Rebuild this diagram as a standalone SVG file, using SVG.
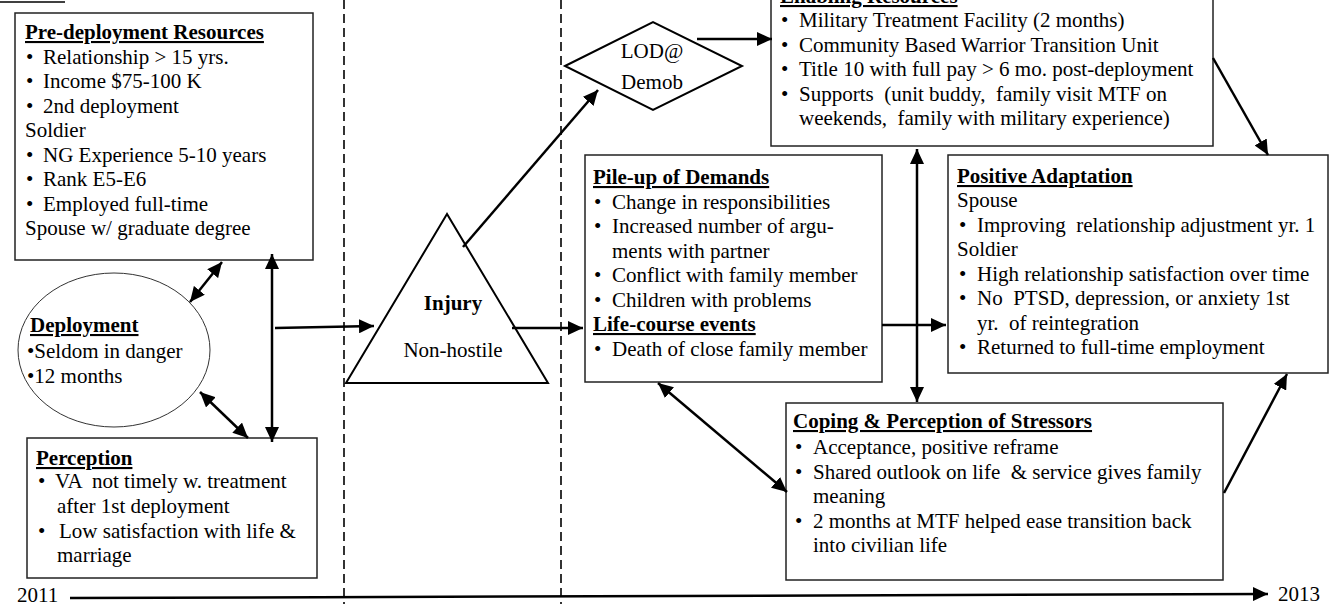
<svg xmlns="http://www.w3.org/2000/svg" width="1330" height="604" viewBox="0 0 1330 604">
<style>
text{font-size:21px;fill:#000;white-space:pre}
.h{font-weight:bold;text-decoration:underline}
.b{font-weight:bold}
.box{fill:#fff;stroke:#222;stroke-width:1.5}
.arr{stroke:#000;stroke-width:2.5;fill:none}
.dash{stroke:#000;stroke-width:1.6;stroke-dasharray:9,5;fill:none}
</style>
<defs>
<marker id="ah" markerUnits="userSpaceOnUse" markerWidth="16" markerHeight="14" refX="15" refY="7" orient="auto-start-reverse">
<path d="M0,0 L15,7 L0,14 z" fill="#000"/>
</marker>
</defs>
<rect width="1330" height="604" fill="#fff"/>
<line x1="0" y1="2" x2="65" y2="2" stroke="#000" stroke-width="1.5"/>
<line class="dash" x1="344" y1="0" x2="344" y2="604"/>
<line class="dash" x1="561" y1="0" x2="561" y2="604"/>
<g font-family="Liberation Serif, serif">
<g id="predeployment">
<rect class="box" x="15" y="13" width="298" height="247"/>
<text class="h" x="25" y="39">Pre-deployment Resources</text>
<text x="26" y="63.5">•</text><text x="43" y="63.5">Relationship &gt; 15 yrs.</text>
<text x="26" y="88">•</text><text x="43" y="88">Income $75-100 K</text>
<text x="26" y="112.5">•</text><text x="43" y="112.5">2nd deployment</text>
<text x="25" y="137">Soldier</text>
<text x="26" y="161.5">•</text><text x="43" y="161.5">NG Experience 5-10 years</text>
<text x="26" y="186">•</text><text x="43" y="186">Rank E5-E6</text>
<text x="26" y="210.5">•</text><text x="43" y="210.5">Employed full-time</text>
<text x="25" y="235">Spouse w/ graduate degree</text>
</g>

<g id="deployment">
<ellipse cx="114" cy="350" rx="96" ry="77" fill="#fff" stroke="#333" stroke-width="1"/>
<text class="h" x="30" y="332">Deployment</text>
<text x="27" y="358">•Seldom in danger</text>
<text x="27" y="383">•12 months</text>
</g>

<g id="perception">
<rect class="box" x="27" y="438" width="290" height="140"/>
<text class="h" x="36" y="465">Perception</text>
<text x="38" y="488">•</text><text x="55" y="488">VA  not timely w. treatment</text>
<text x="57" y="513">after 1st deployment</text>
<text x="38" y="538">•</text><text x="59" y="538">Low satisfaction with life &amp;</text>
<text x="57" y="562">marriage</text>
</g>

<g id="injury">
<polygon points="447,214 346,383 548,383" fill="#fff" stroke="#000" stroke-width="2"/>
<text class="b" x="453" y="310" text-anchor="middle">Injury</text>
<text x="453" y="357" text-anchor="middle">Non-hostile</text>
</g>

<g id="lod">
<polygon points="565,66 653,22 742,66 653,110" fill="#fff" stroke="#000" stroke-width="2"/>
<text x="652" y="58" text-anchor="middle">LOD@</text>
<text x="652" y="89" text-anchor="middle">Demob</text>
</g>

<g id="enabling">
<rect class="box" x="771" y="-25" width="442" height="171"/>
<text class="h" x="780" y="3">Enabling Resources</text>
<text x="781" y="27">•</text><text x="799" y="27">Military Treatment Facility (2 months)</text>
<text x="781" y="52">•</text><text x="799" y="52">Community Based Warrior Transition Unit</text>
<text x="781" y="76">•</text><text x="799" y="76">Title 10 with full pay &gt; 6 mo. post-deployment</text>
<text x="781" y="101">•</text><text x="799" y="101">Supports  (unit buddy,  family visit MTF on</text>
<text x="799" y="125">weekends,  family with military experience)</text>
</g>

<g id="pileup">
<rect class="box" x="585" y="155" width="297" height="227"/>
<text class="h" x="593" y="184">Pile-up of Demands</text>
<text x="594" y="209">•</text><text x="612" y="209">Change in responsibilities</text>
<text x="594" y="233">•</text><text x="612" y="233">Increased number of argu-</text>
<text x="612" y="258">ments with partner</text>
<text x="594" y="282">•</text><text x="612" y="282">Conflict with family member</text>
<text x="594" y="307">•</text><text x="612" y="307">Children with problems</text>
<text class="h" x="593" y="331">Life-course events</text>
<text x="594" y="356">•</text><text x="612" y="356">Death of close family member</text>
</g>

<g id="positive">
<rect class="box" x="948" y="155" width="380" height="218"/>
<text class="h" x="957" y="183">Positive Adaptation</text>
<text x="957" y="207">Spouse</text>
<text x="959" y="232">•</text><text x="977" y="232">Improving  relationship adjustment yr. 1</text>
<text x="957" y="256">Soldier</text>
<text x="959" y="281">•</text><text x="977" y="281">High relationship satisfaction over time</text>
<text x="959" y="305">•</text><text x="977" y="305">No  PTSD, depression, or anxiety 1st</text>
<text x="977" y="330">yr.  of reintegration</text>
<text x="959" y="354">•</text><text x="977" y="354">Returned to full-time employment</text>
</g>

<g id="coping">
<rect class="box" x="786" y="403" width="437" height="177"/>
<text class="h" x="793" y="428">Coping &amp; Perception of Stressors</text>
<text x="795" y="454">•</text><text x="813" y="454">Acceptance, positive reframe</text>
<text x="795" y="479">•</text><text x="813" y="479">Shared outlook on life  &amp; service gives family</text>
<text x="813" y="503">meaning</text>
<text x="795" y="528">•</text><text x="813" y="528">2 months at MTF helped ease transition back</text>
<text x="813" y="552">into civilian life</text>
</g>

<g id="timeline">
<text x="17" y="602">2011</text>
<text x="1278" y="601">2013</text>
</g>
</g>
<g id="connectors">
<line class="arr" x1="70" y1="598" x2="1268" y2="594" marker-end="url(#ah)"/>
<line class="arr" x1="272" y1="254" x2="272" y2="442" marker-start="url(#ah)" marker-end="url(#ah)"/>
<line class="arr" x1="190" y1="302" x2="222" y2="262" marker-start="url(#ah)" marker-end="url(#ah)"/>
<line class="arr" x1="200" y1="392" x2="248" y2="438" marker-start="url(#ah)" marker-end="url(#ah)"/>
<line class="arr" x1="275" y1="328" x2="374" y2="326" marker-end="url(#ah)"/>
<line class="arr" x1="463" y1="247" x2="598" y2="90" marker-end="url(#ah)"/>
<line class="arr" x1="697" y1="39" x2="772" y2="39" marker-end="url(#ah)"/>
<line class="arr" x1="512" y1="328" x2="583" y2="328" marker-end="url(#ah)"/>
<line class="arr" x1="882" y1="325" x2="946" y2="325" marker-end="url(#ah)"/>
<line class="arr" x1="917" y1="149" x2="917" y2="402" marker-start="url(#ah)" marker-end="url(#ah)"/>
<line class="arr" x1="1213" y1="58" x2="1268" y2="155" marker-end="url(#ah)"/>
<line class="arr" x1="658" y1="383" x2="787" y2="492" marker-start="url(#ah)" marker-end="url(#ah)"/>
<line class="arr" x1="1224" y1="493" x2="1287" y2="374" marker-end="url(#ah)"/>
</g>
</svg>
